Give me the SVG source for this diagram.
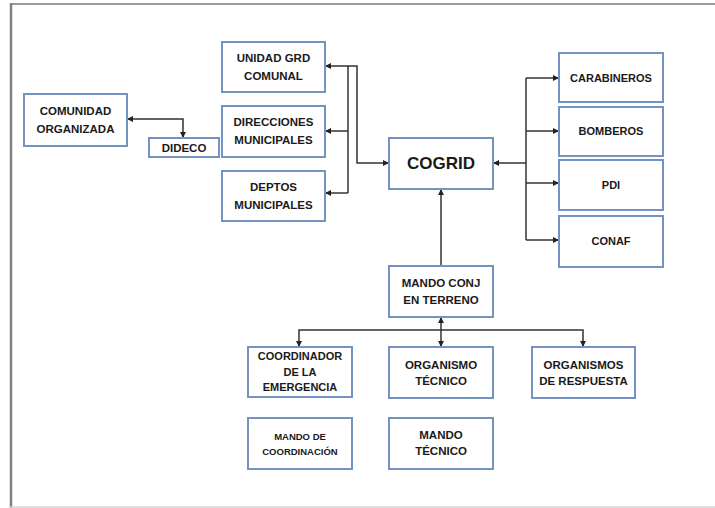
<svg xmlns="http://www.w3.org/2000/svg" width="715" height="508" viewBox="0 0 715 508">
<defs>
<marker id="ah" viewBox="0 0 10 10" refX="10" refY="5" markerWidth="6" markerHeight="6" markerUnits="userSpaceOnUse" orient="auto-start-reverse">
<path d="M0,0 L10,5 L0,10 z" fill="#222"/>
</marker>
<style>
.box{fill:#fff;stroke:#7393c4;stroke-width:2}
.t{font-family:"Liberation Sans",Arial,sans-serif;font-weight:bold;fill:#1a1a1a;text-anchor:middle;font-size:11.5px}
.s{font-size:11px}
.xs{font-size:9.5px}
.big{font-size:17px}
.c{fill:none;stroke:#333;stroke-width:1.5}
.ca{fill:none;stroke:#333;stroke-width:1.5;marker-end:url(#ah)}
.cb{fill:none;stroke:#333;stroke-width:1.5;marker-start:url(#ah);marker-end:url(#ah)}
</style>
</defs>
<rect width="715" height="508" fill="#fff"/>
<g id="frame">
<line x1="10" y1="4" x2="715" y2="4" stroke="#9a9a9a" stroke-width="2"/>
<line x1="11" y1="3" x2="11" y2="508" stroke="#808080" stroke-width="2.5"/>
<line x1="10" y1="507" x2="715" y2="507" stroke="#d4d4d4" stroke-width="1.5"/>
</g>
<g id="connectors">
<path class="cb" d="M183,138 V119 H127"/>
<path class="cb" d="M325,66 H357 V163 H389"/>
<path class="c" d="M348,66 V193"/>
<path class="ca" d="M348,131 H325"/>
<path class="ca" d="M348,193 H325"/>
<path class="ca" d="M526,163 H493"/>
<path class="c" d="M526,78 V240"/>
<path class="ca" d="M526,78 H559"/>
<path class="ca" d="M526,131 H559"/>
<path class="ca" d="M526,183 H559"/>
<path class="ca" d="M526,240 H559"/>
<path class="ca" d="M441,266 V189"/>
<path class="ca" d="M441,330 V317"/>
<path class="ca" d="M441,330 V347"/>
<path class="cb" d="M299,347 V330 H583 V347"/>
</g>
<g id="unidad"><rect class="box" x="222" y="42" width="103" height="50"/><text class="t" x="273.5" y="62">UNIDAD GRD</text><text class="t" x="273.5" y="80">COMUNAL</text></g>
<g id="direcciones"><rect class="box" x="222" y="106" width="103" height="51"/><text class="t" x="273.5" y="126">DIRECCIONES</text><text class="t" x="273.5" y="144">MUNICIPALES</text></g>
<g id="deptos"><rect class="box" x="222" y="171" width="103" height="50"/><text class="t" x="273.5" y="191">DEPTOS</text><text class="t" x="273.5" y="209">MUNICIPALES</text></g>
<g id="comunidad"><rect class="box" x="24" y="94" width="103" height="52"/><text class="t" x="75.5" y="115">COMUNIDAD</text><text class="t" x="75.5" y="133">ORGANIZADA</text></g>
<g id="dideco"><rect class="box" x="149" y="138" width="70" height="19"/><text class="t" x="184" y="152">DIDECO</text></g>
<g id="cogrid"><rect class="box" x="389" y="138" width="104" height="51"/><text class="t big" x="441" y="169">COGRID</text></g>
<g id="carabineros"><rect class="box" x="559" y="53" width="104" height="49"/><text class="t s" x="611" y="82">CARABINEROS</text></g>
<g id="bomberos"><rect class="box" x="559" y="107" width="104" height="49"/><text class="t s" x="611" y="135">BOMBEROS</text></g>
<g id="pdi"><rect class="box" x="559" y="160" width="104" height="50"/><text class="t s" x="611" y="189">PDI</text></g>
<g id="conaf"><rect class="box" x="559" y="216" width="104" height="51"/><text class="t s" x="611" y="245">CONAF</text></g>
<g id="mandoconj"><rect class="box" x="389" y="266" width="104" height="51"/><text class="t" x="441" y="287">MANDO CONJ</text><text class="t" x="441" y="304">EN TERRENO</text></g>
<g id="coordinador"><rect class="box" x="248" y="347" width="104" height="50"/><text class="t s" x="300" y="360">COORDINADOR</text><text class="t s" x="300" y="376">DE LA</text><text class="t s" x="300" y="391">EMERGENCIA</text></g>
<g id="organismotecnico"><rect class="box" x="389" y="347" width="104" height="51"/><text class="t" x="441" y="369">ORGANISMO</text><text class="t" x="441" y="385">TÉCNICO</text></g>
<g id="organismosrespuesta"><rect class="box" x="532" y="347" width="103" height="51"/><text class="t" x="583.5" y="369">ORGANISMOS</text><text class="t" x="583.5" y="385">DE RESPUESTA</text></g>
<g id="mandocoordinacion"><rect class="box" x="248" y="418" width="104" height="51"/><text class="t xs" x="300" y="440">MANDO DE</text><text class="t xs" x="300" y="455">COORDINACIÓN</text></g>
<g id="mandotecnico"><rect class="box" x="389" y="418" width="104" height="51"/><text class="t" x="441" y="439">MANDO</text><text class="t" x="441" y="455">TÉCNICO</text></g>
</svg>
